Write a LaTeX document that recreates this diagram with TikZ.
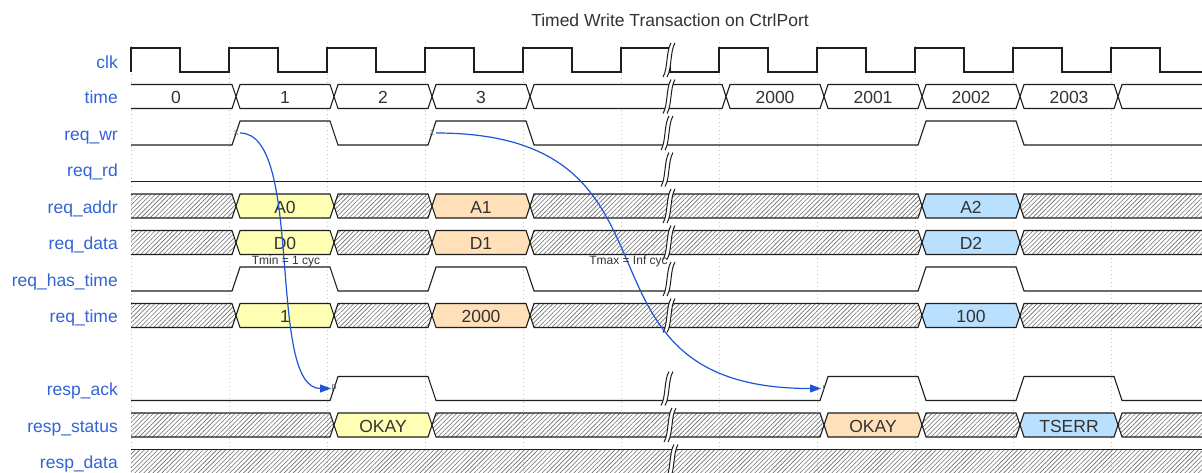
\documentclass[tikz,border=0pt]{standalone}
\usepackage{fontspec}
\setmainfont{Liberation Sans}
\usetikzlibrary{patterns.meta,arrows.meta}
\definecolor{namecol}{RGB}{50,100,215}
\definecolor{edgecol}{RGB}{30,85,215}
\definecolor{wavecol}{RGB}{30,30,30}
\definecolor{txtcol}{RGB}{51,51,51}
\definecolor{gridcol}{RGB}{195,195,195}
\definecolor{hatchcol}{RGB}{110,110,110}
\definecolor{yel}{HTML}{FFFFB4}
\definecolor{ora}{HTML}{FFE0B9}
\definecolor{blu}{HTML}{B9E0FF}

\newcommand\bseg[5]{% a, b, top, fill style, label
  \draw[wave,#4] ({#1+7},{#3+12}) -- ({#1+11},#3) -- ({#2+3},#3) -- ({#2+7},{#3+12}) -- ({#2+3},{#3+24}) -- ({#1+11},{#3+24}) -- cycle;
  \node[datatxt] at ({(#1+#2)/2+7},{#3+19}) {#5};
}
\newcommand\bfirst[3]{% b, top, fill style
  \fill[#3] (131,#2) -- ({#1+3},#2) -- ({#1+7},{#2+12}) -- ({#1+3},{#2+24}) -- (131,{#2+24}) -- cycle;
  \draw[wave] (131,#2) -- ({#1+3},#2) -- ({#1+7},{#2+12}) -- ({#1+3},{#2+24}) -- (131,{#2+24});
}
\newcommand\blast[3]{% a, top, fill style
  \fill[#3] ({#1+7},{#2+12}) -- ({#1+11},#2) -- (1210,#2) -- (1210,{#2+24}) -- ({#1+11},{#2+24}) -- cycle;
  \draw[wave] (1210,#2) -- ({#1+11},#2) -- ({#1+7},{#2+12}) -- ({#1+11},{#2+24}) -- (1210,{#2+24});
}
\newcommand\gapmark[2]{% x, row top
  \fill[white] ({#1-6},{#2+29}) .. controls ({#1-1},{#2+21}) and ({#1-3},{#2+3}) .. ({#1+2},{#2-5}) -- ({#1+6},{#2-5}) .. controls ({#1+1},{#2+3}) and ({#1+3},{#2+21}) .. ({#1-2},{#2+29}) -- cycle;
  \draw[gapline] ({#1-6},{#2+29}) .. controls ({#1-1},{#2+21}) and ({#1-3},{#2+3}) .. ({#1+2},{#2-5});
  \draw[gapline] ({#1-2},{#2+29}) .. controls ({#1+3},{#2+21}) and ({#1+1},{#2+3}) .. ({#1+6},{#2-5});
}

\begin{document}
\begin{tikzpicture}[x=1pt,y=-1pt,
  wave/.style={draw=wavecol,line width=1.1pt,line join=miter},
  gapline/.style={draw=wavecol,line width=1pt},
  hatch/.style={pattern={Lines[angle=45,distance=3.2pt,line width=0.6pt]},pattern color=hatchcol},
  plain/.style={fill=white},
  yfill/.style={fill=yel},
  ofill/.style={fill=ora},
  bfill/.style={fill=blu},
  sname/.style={anchor=base east,text=namecol,font=\fontsize{17.5}{20}\selectfont,inner sep=0pt},
  datatxt/.style={anchor=base,text=txtcol,font=\fontsize{17.5}{20}\selectfont,inner sep=0pt},
  titletxt/.style={anchor=base,text=txtcol,font=\fontsize{17.5}{20}\selectfont,inner sep=0pt},
  elabel/.style={anchor=base,text=txtcol,font=\fontsize{12}{14}\selectfont,inner sep=0pt},
  marker/.style={text=black!60,font=\fontsize{9}{10}\selectfont,inner sep=0.6pt},
  edge/.style={draw=edgecol,line width=1.2pt,-{Triangle[length=11pt,width=8pt]}},
  grid/.style={draw=gridcol,line width=0.8pt,dash pattern=on 1pt off 3pt}
]
\path[use as bounding box,fill=white] (0,0) rectangle (1202,472);
\clip (0,0) rectangle (1202,472);

% grid
\foreach \k in {0,...,10} \draw[grid] ({131+98*\k},42) -- ({131+98*\k},472);

% title
\node[titletxt] (title) at (670,26.5) {Timed Write Transaction on CtrlPort};

% signal names
\node[sname] (n0) at (118,68) {clk};
\node[sname] (n1) at (118,103.5) {time};
\node[sname] (n2) at (118,140) {req\_wr};
\node[sname] (n3) at (118,176.5) {req\_rd};
\node[sname] (n4) at (118,213) {req\_addr};
\node[sname] (n5) at (118,249.5) {req\_data};
\node[sname] (n6) at (118,286) {req\_has\_time};
\node[sname] (n7) at (118,322.5) {req\_time};
\node[sname] (n9) at (118,395.5) {resp\_ack};
\node[sname] (n10) at (118,432) {resp\_status};
\node[sname] (n11) at (118,468.5) {resp\_data};

% clk
\draw[wave] (131,72) \foreach \k in {0,...,10} { -- ({131+98*\k},48) -- ({180+98*\k},48) -- ({180+98*\k},72) -- ({229+98*\k},72) };

% time
\bfirst{229}{84.5}{plain}
\node[datatxt] at (176,103.5) {0};
\bseg{229}{327}{84.5}{plain}{1}
\bseg{327}{425}{84.5}{plain}{2}
\bseg{425}{523}{84.5}{plain}{3}
\bseg{523}{719}{84.5}{plain}{}
\bseg{719}{817}{84.5}{plain}{2000}
\bseg{817}{915}{84.5}{plain}{2001}
\bseg{915}{1013}{84.5}{plain}{2002}
\bseg{1013}{1111}{84.5}{plain}{2003}
\blast{1111}{84.5}{plain}

% req_wr
\draw[wave] (131,145) -- (232,145) -- (240,121) -- (330,121) -- (338,145) -- (428,145) -- (436,121) -- (526,121) -- (534,145) -- (918,145) -- (926,121) -- (1016,121) -- (1024,145) -- (1210,145);

% req_rd
\draw[wave] (131,181.5) -- (1210,181.5);

% req_addr
\bfirst{229}{194}{hatch}
\bseg{229}{327}{194}{yfill}{A0}
\bseg{327}{425}{194}{hatch}{}
\bseg{425}{523}{194}{ofill}{A1}
\bseg{523}{915}{194}{hatch}{}
\bseg{915}{1013}{194}{bfill}{A2}
\blast{1013}{194}{hatch}

% req_data
\bfirst{229}{230.5}{hatch}
\bseg{229}{327}{230.5}{yfill}{D0}
\bseg{327}{425}{230.5}{hatch}{}
\bseg{425}{523}{230.5}{ofill}{D1}
\bseg{523}{915}{230.5}{hatch}{}
\bseg{915}{1013}{230.5}{bfill}{D2}
\blast{1013}{230.5}{hatch}

% req_has_time
\draw[wave] (131,291) -- (232,291) -- (240,267) -- (330,267) -- (338,291) -- (428,291) -- (436,267) -- (526,267) -- (534,291) -- (918,291) -- (926,267) -- (1016,267) -- (1024,291) -- (1210,291);

% req_time
\bfirst{229}{303.5}{hatch}
\bseg{229}{327}{303.5}{yfill}{1}
\bseg{327}{425}{303.5}{hatch}{}
\bseg{425}{523}{303.5}{ofill}{2000}
\bseg{523}{915}{303.5}{hatch}{}
\bseg{915}{1013}{303.5}{bfill}{100}
\blast{1013}{303.5}{hatch}

% resp_ack
\draw[wave] (131,400.5) -- (330,400.5) -- (338,376.5) -- (428,376.5) -- (436,400.5) -- (820,400.5) -- (828,376.5) -- (918,376.5) -- (926,400.5) -- (1016,400.5) -- (1024,376.5) -- (1114,376.5) -- (1122,400.5) -- (1210,400.5);

% resp_status
\bfirst{327}{413}{hatch}
\bseg{327}{425}{413}{yfill}{OKAY}
\bseg{425}{817}{413}{hatch}{}
\bseg{817}{915}{413}{ofill}{OKAY}
\bseg{915}{1013}{413}{hatch}{}
\bseg{1013}{1111}{413}{bfill}{TSERR}
\blast{1111}{413}{hatch}

% resp_data
\fill[hatch] (131,449.5) rectangle (1210,473.5);
\draw[wave] (131,449.5) -- (1210,449.5);
\draw[wave] (131,473.5) -- (1210,473.5);

% gaps
\gapmark{669}{48}
\gapmark{669}{84.5}
\gapmark{667}{121}
\gapmark{667}{157.5}
\gapmark{669}{194}
\gapmark{669}{230.5}
\gapmark{669}{267}
\gapmark{669}{303.5}
\gapmark{667}{376.5}
\gapmark{670}{413}
\gapmark{672}{449.5}

% edge end points (named, invisible first so edges can refer to them)
\coordinate (x) at (236,133);
\coordinate (z) at (432,133);
\coordinate (p) at (334,388.5);
\coordinate (r) at (824,388.5);

% edges
\draw[edge] ([xshift=4pt]x) .. controls +(65,0) and +(-65,0) .. ([xshift=-3pt]p);
\draw[edge] ([xshift=4pt]z) .. controls +(270,0) and +(-270,0) .. ([xshift=-3pt]r);
\node[elabel] (tmin) at (286,264.5) {Tmin = 1 cyc};
\node[elabel] (tmax) at (628.5,264.5) {Tmax = Inf cyc};

% edge markers
\node[marker] (xl) at (x) {x};
\node[marker] (zl) at (z) {z};
\node[marker] (pl) at (p) {p};
\node[marker] (rl) at (r) {r};
\end{tikzpicture}
\end{document}
